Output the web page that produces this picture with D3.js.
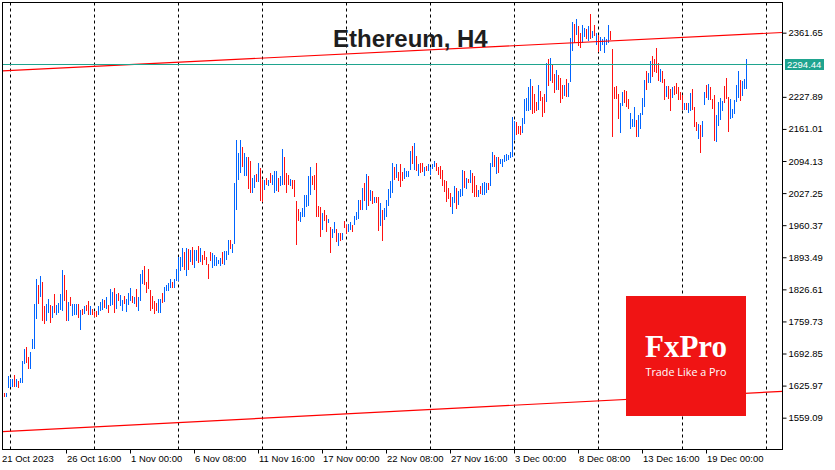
<!DOCTYPE html>
<html><head><meta charset="utf-8">
<script src="https://cdn.jsdelivr.net/npm/d3@7/dist/d3.min.js"></script>
<style>body{margin:0;background:#fff}svg{display:block}</style>
</head><body>
<svg id="chart" width="835" height="470"></svg>
<script>
// ---- data ----
const chartTitle = "Ethereum, H4";
const firstBarTime = "2023-10-21T12:00:00Z";   // H4 bars, 24/7
const barHours = 4;
const highs = [
1611,1611,1645,1640,1640,1649,1640,1636,1642,1678,
1703,1707,1685,1695,1724,1796,1849,1836,1854,1842,
1791,1796,1807,1795,1791,1817,1795,1799,1817,1866,
1857,1825,1800,1810,1796,1796,1796,1796,1784,1785,
1792,1793,1803,1792,1786,1779,1781,1792,1800,1806,
1804,1810,1793,1827,1821,1829,1817,1820,1814,1804,
1813,1806,1820,1829,1813,1810,1828,1810,1859,1867,
1875,1841,1870,1825,1813,1803,1799,1806,1807,1820,
1832,1835,1839,1848,1841,1849,1868,1895,1893,1913,
1905,1913,1910,1909,1914,1909,1909,1916,1913,1898,
1906,1895,1880,1905,1903,1899,1895,1888,1892,1905,
1906,1907,1930,1930,1921,2049,2137,2110,2137,2124,
2110,2103,2103,2094,2059,2066,2067,2089,2080,2055,
2055,2059,2055,2069,2066,2074,2074,2059,2062,2120,
2103,2069,2064,2057,2055,2055,2010,1994,1988,1996,
2024,2024,2062,2081,2063,2066,2091,2000,1998,1986,
1991,1982,1973,1956,1952,1967,1953,1945,1944,1945,
1969,1960,1963,1967,1961,1980,1988,2013,2013,2038,
2049,2067,2063,2034,2032,2019,2020,2019,2007,1991,
1996,2013,2036,2053,2089,2082,2087,2071,2088,2071,
2080,2073,2073,2116,2125,2131,2105,2087,2089,2089,
2082,2084,2087,2081,2087,2095,2089,2082,2084,2075,
2055,2053,2038,2028,2020,2042,2038,2032,2036,2075,
2073,2059,2056,2075,2069,2062,2045,2034,2041,2048,
2050,2048,2048,2091,2112,2107,2103,2102,2098,2098,
2106,2109,2107,2113,2185,2178,2176,2167,2167,2184,
2223,2226,2248,2265,2251,2234,2217,2253,2240,2228,2234,
2299,2307,2309,2296,2276,2284,2274,2267,2253,2253,
2265,2257,2351,2384,2380,2390,2376,2361,2378,2371,
2369,2376,2401,2365,2378,2361,2357,2353,2349,2353,
2349,2378,2365,2328,2248,2251,2234,2215,2238,2242,
2240,2223,2194,2182,2207,2180,2190,2194,2226,2263,
2282,2278,2303,2313,2307,2330,2299,2286,2282,2265,
2251,2251,2244,2248,2251,2257,2248,2238,2232,2215,
2215,2215,2236,2244,2207,2176,2171,2169,2178,2238,
2253,2255,2248,2223,2232,2190,2217,2226,2219,2251,
2267,2228,2223,2203,2221,2253,2282,2263,2261,2265,
2307];
const lows = [
1603,1603,1620,1624,1624,1624,1624,1620,1631,1632,
1670,1674,1661,1661,1703,1703,1765,1796,1811,1761,
1754,1761,1778,1757,1767,1778,1774,1778,1784,1781,
1803,1761,1761,1791,1771,1773,1774,1767,1742,1774,
1775,1782,1774,1774,1774,1770,1770,1774,1782,1784,
1788,1786,1778,1791,1793,1778,1785,1802,1792,1782,
1796,1779,1793,1803,1798,1796,1789,1782,1802,1838,
1835,1820,1827,1782,1786,1775,1782,1778,1778,1799,
1800,1824,1824,1829,1829,1829,1845,1845,1864,1874,
1867,1854,1866,1884,1878,1871,1885,1881,1884,1878,
1888,1878,1849,1886,1871,1875,1875,1880,1875,1880,
1878,1888,1898,1911,1902,1921,1992,2055,2069,2081,
2063,2063,2036,2027,2028,2038,2050,2050,2010,2009,
2034,2045,2041,2048,2044,2028,2032,2030,2041,2044,
2044,2028,2044,2042,2036,2019,1920,1969,1966,1977,
1978,1999,2000,2023,2045,2034,1978,1978,1936,1950,
1970,1946,1964,1903,1934,1944,1925,1916,1928,1930,
1955,1941,1946,1950,1946,1960,1971,1974,1992,1992,
2011,1991,2000,2010,2005,2006,2006,1949,1959,1928,
1971,1977,2000,2016,2027,2055,2059,2053,2039,2052,
2057,2060,2061,2075,2088,2075,2073,2063,2069,2071,
2062,2073,2073,2066,2078,2081,2073,2064,2057,2041,
2030,2009,2014,1999,1984,2006,1995,2002,2019,2021,
2038,2036,2048,2048,2028,2019,2020,2020,2025,2024,
2023,2027,2034,2041,2082,2082,2067,2070,2087,2082,
2092,2094,2096,2100,2103,2138,2148,2151,2148,2153,
2171,2199,2198,2201,2192,2194,2198,2201,2219,2186,2194,
2217,2251,2261,2257,2236,2242,2242,2215,2223,2230,
2228,2228,2259,2324,2340,2357,2334,2330,2340,2353,
2349,2344,2349,2351,2355,2336,2321,2324,2336,2319,
2336,2340,2346,2144,2223,2223,2182,2153,2209,2215,
2207,2203,2161,2165,2165,2144,2144,2161,2190,2207,
2242,2257,2257,2269,2280,2278,2261,2259,2257,2221,
2228,2223,2198,2226,2232,2234,2221,2221,2201,2201,
2201,2194,2198,2201,2165,2157,2140,2111,2144,2211,
2226,2221,2221,2203,2136,2134,2167,2180,2198,2215,
2223,2155,2182,2184,2192,2217,2226,2219,2230,2244,
2244];
// bar direction: u = close above open (blue), d = close below open (red)
const directions = (
"duuuududuu udduuuudud duududuuuu dduduuudud udduddduuu " +
"duduududuu duuududuuu ddddddduud uuuuduuuuu dududuudud " +
"dddduuuuud uuuduuuuud uudduududd ududuuuduu dddudddduu " +
"uuuudddddu dduduududu dduuduuudu dudududdud uuuuududdd " +
"uuuudududd uduuuudddd dddduuduuu dududddudu uuduududuu " +
"uuuuuudddu uuuuddduddd ududdudddu duuududduu dudududuuu " +
"uuddddduud dduuuduuuu duuddddudd uddudddddu duuddduduu " +
"duddduuuud dduuuuuduu u").replace(/ /g, "");
const lastPrice = 2294.44;
const yTickValues = [2361.65, 2227.89, 2161.01, 2094.13, 2027.25, 1960.37,
                     1893.49, 1826.61, 1759.73, 1692.85, 1625.97, 1559.09];
const xTickTimes = ["2023-10-21T08:00Z","2023-10-26T16:00Z","2023-11-01T00:00Z",
  "2023-11-06T08:00Z","2023-11-11T16:00Z","2023-11-17T00:00Z","2023-11-22T08:00Z",
  "2023-11-27T16:00Z","2023-12-03T00:00Z","2023-12-08T08:00Z","2023-12-13T16:00Z",
  "2023-12-19T00:00Z"];
const xTickLabels = ["21 Oct 2023","26 Oct 16:00","1 Nov 00:00","6 Nov 08:00",
  "11 Nov 16:00","17 Nov 00:00","22 Nov 08:00","27 Nov 16:00","3 Dec 00:00",
  "8 Dec 08:00","13 Dec 16:00","19 Dec 00:00"];
const channelUpper = [["2023-10-21T08:00Z", 2282], ["2023-12-25T08:00Z", 2362]];
const channelLower = [["2023-10-21T08:00Z", 1530], ["2023-12-25T08:00Z", 1614]];
const viewStart = "2023-10-21T08:00Z", viewEnd = "2023-12-25T08:00Z";
const priceMin = 1493.8, priceMax = 2425.6;
const logoName = "FxPro", logoSlogan = "Trade Like a Pro";

// ---- drawing ----
const W = 835, H = 470;
const L = 2.5, R = 782.5, T = 2.5, B = 449.5;
const BLUE = "#0064ff", RED = "#ff1212", TEAL = "#1fa48f";
const svg = d3.select("#chart");
svg.append("rect").attr("width", W).attr("height", H).attr("fill", "#fff");

const x = d3.scaleUtc().domain([new Date(viewStart), new Date(viewEnd)]).range([L, R]);
const y = d3.scaleLinear().domain([priceMin, priceMax]).range([449, 2]);

const t0 = new Date(firstBarTime).getTime();
const bars = highs.map((h, i) => ({
  t: new Date(t0 + i * barHours * 3600e3), h, l: lows[i], dir: directions[i]
}));

// weekly dashed grid
const grid = svg.append("g");
d3.utcSunday.range(new Date(viewStart), new Date(viewEnd)).forEach(d => {
  const gx = Math.round(x(d) - 0.5) + 0.5;
  grid.append("line").attr("x1", gx).attr("x2", gx).attr("y1", T).attr("y2", B)
    .attr("stroke", "#000").attr("stroke-width", 1).attr("stroke-dasharray", "3,3");
});

// OHLC bars (high-low lines)
svg.append("g").attr("shape-rendering", "crispEdges")
  .selectAll("rect").data(bars).join("rect")
  .attr("x", d => Math.round(x(d.t) - 0.5))
  .attr("width", 1)
  .attr("y", d => y(d.h))
  .attr("height", d => Math.max(1, y(d.l) - y(d.h)))
  .attr("fill", d => d.dir === "u" ? BLUE : RED);

// channel lines
const line = d3.line().x(d => x(new Date(d[0]))).y(d => y(d[1]));
[channelUpper, channelLower].forEach(c => {
  svg.append("path").attr("d", line(c)).attr("fill", "none")
    .attr("stroke", "#ff0000").attr("stroke-width", 1.2);
});

// last price line
const py = Math.round(y(lastPrice) - 0.5) + 0.5;
svg.append("line").attr("x1", L).attr("x2", R).attr("y1", py).attr("y2", py)
  .attr("stroke", TEAL).attr("stroke-width", 1);

// title
svg.append("text").attr("x", 333).attr("y", 47).text(chartTitle)
  .attr("font-family", "Liberation Sans, Arial, sans-serif").attr("font-weight", "bold")
  .attr("font-size", 24).attr("fill", "#1e1e1e");

// logo
const lg = svg.append("g");
lg.append("rect").attr("x", 626).attr("y", 296).attr("width", 120).attr("height", 120)
  .attr("fill", "#f01414");
lg.append("text").attr("x", 686).attr("y", 357).attr("text-anchor", "middle")
  .attr("font-family", "Liberation Serif").attr("font-weight", "bold")
  .attr("font-size", 31).attr("fill", "#fff").text(logoName);
lg.append("text").attr("x", 686).attr("y", 376).attr("text-anchor", "middle")
  .attr("font-family", "Open Sans").attr("font-size", 10.8).attr("fill", "#fff").text(logoSlogan);

// frame
svg.append("rect").attr("x", L).attr("y", T).attr("width", R - L).attr("height", B - T)
  .attr("fill", "none").attr("stroke", "#000").attr("stroke-width", 1);

// right price axis
const yAxis = d3.axisRight(y).tickValues(yTickValues).tickSize(4).tickPadding(2)
  .tickFormat(d3.format(".2f"));
const ya = svg.append("g").attr("transform", `translate(${R},0)`).call(yAxis);
ya.select(".domain").remove();
ya.selectAll("text").attr("font-family", "Liberation Sans").attr("font-size", 9.5).attr("fill", "#000");
ya.selectAll("line").attr("stroke", "#000");

// last price label
const pl = svg.append("g");
pl.append("rect").attr("x", 785).attr("y", py - 5.5).attr("width", 39).attr("height", 11).attr("fill", TEAL);
pl.append("text").attr("x", 787).attr("y", py).attr("dy", "0.34em")
  .attr("font-family", "Liberation Sans").attr("font-size", 9.5).attr("fill", "#fff")
  .text(d3.format(".2f")(lastPrice));

// bottom time axis
const xa = svg.append("g");
xTickTimes.forEach((s, i) => {
  const tx = Math.round(x(new Date(s)) - 0.5) + 0.5;
  if (i > 0) xa.append("line").attr("x1", tx).attr("x2", tx).attr("y1", B).attr("y2", B + 4)
    .attr("stroke", "#000");
  xa.append("text").attr("x", i === 0 ? 2 : tx + 0.5).attr("y", 462)
    .attr("font-family", "Liberation Sans").attr("font-size", 9.5).attr("fill", "#000")
    .text(xTickLabels[i]);
});
</script>
</body></html>
